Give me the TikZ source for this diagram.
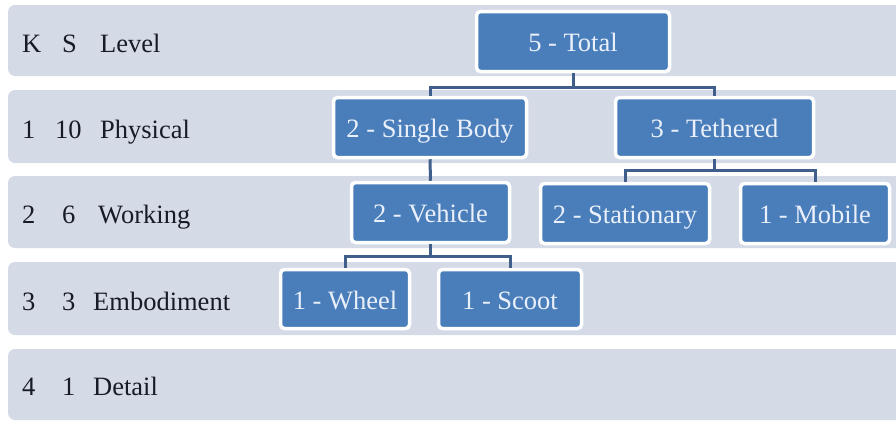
\documentclass[tikz,border=0pt]{standalone}
\usepackage{fontspec}
\setmainfont{Liberation Serif}
\definecolor{band}{HTML}{D4DAE6}
\definecolor{boxfill}{HTML}{4A7EBB}
\definecolor{boxtext}{HTML}{EAF0FA}
\definecolor{conn}{HTML}{3F5E8C}
\definecolor{lbl}{HTML}{171B26}
\newcommand{\lvlrow}[5]{\rlap{#1}\hspace*{#2pt}\rlap{#3}\hspace*{#4pt}#5}
\begin{document}
\begin{tikzpicture}[x=1pt,y=-1pt,
  bandbox/.style={fill=band,rounded corners=7pt},
  treebox/.style={draw=white,line width=3.5pt,fill=boxfill,rounded corners=4pt,
    text=boxtext,font=\fontsize{26.5}{30}\selectfont,inner sep=0pt,minimum height=60pt,
    text height=21pt,text depth=1pt},
  lvltext/.style={anchor=base west,inner sep=0pt,text=lbl,font=\fontsize{26.5}{30}\selectfont},
  link/.style={draw=conn,line width=3pt}]
\useasboundingbox (0,0) rectangle (896,421);
\clip (0,0) rectangle (896,421);
\fill[white] (0,0) rectangle (896,421);
% bands
\fill[bandbox] (8,5) rectangle (910,76);
\fill[bandbox] (8,90) rectangle (910,163);
\fill[bandbox] (8,176) rectangle (910,248);
\fill[bandbox] (8,262) rectangle (910,335);
\fill[bandbox] (8,349) rectangle (910,420);
% level labels
\node[lvltext] (l0) at (22,52) {\lvlrow{K}{40}{S}{38}{Level}};
\node[lvltext] (l1) at (22,138) {\lvlrow{1}{33}{10}{45}{Physical}};
\node[lvltext] (l2) at (22,223) {\lvlrow{2}{40}{6}{36}{Working}};
\node[lvltext] (l3) at (22,310) {\lvlrow{3}{40}{3}{31}{Embodiment}};
\node[lvltext] (l4) at (22,395) {\lvlrow{4}{40}{1}{31}{Detail}};
% tree boxes
\node[treebox,minimum width=193pt] (total) at (573,41.5) {5 - Total};
\node[treebox,minimum width=193pt] (single) at (430,127.5) {2 - Single Body};
\node[treebox,minimum width=198pt] (teth) at (714.5,127.5) {3 - Tethered};
\node[treebox,minimum width=158pt] (veh) at (430.5,212.5) {2 - Vehicle};
\node[treebox,minimum width=169pt] (stat) at (625,213.5) {2 - Stationary};
\node[treebox,minimum width=149pt] (mob) at (815,213.5) {1 - Mobile};
\node[treebox,minimum width=129pt,minimum height=59pt] (wheel) at (345,299) {1 - Wheel};
\node[treebox,minimum width=143pt,minimum height=59pt] (scoot) at (510,299) {1 - Scoot};
% connectors
\coordinate (b1) at (573,87.5);
\coordinate (b2) at (714.5,170.5);
\coordinate (b3) at (430.5,256.5);
\draw[link] (total.south) -- (b1);
\draw[link] (single.north) |- (b1) -| (teth.north);
\draw[link] (single.south) -- (veh.north);
\draw[link] (teth.south) -- (b2);
\draw[link] (stat.north) |- (b2) -| (mob.north);
\draw[link] (veh.south) -- (b3);
\draw[link] (wheel.north) |- (b3) -| (scoot.north);
\end{tikzpicture}
\end{document}
